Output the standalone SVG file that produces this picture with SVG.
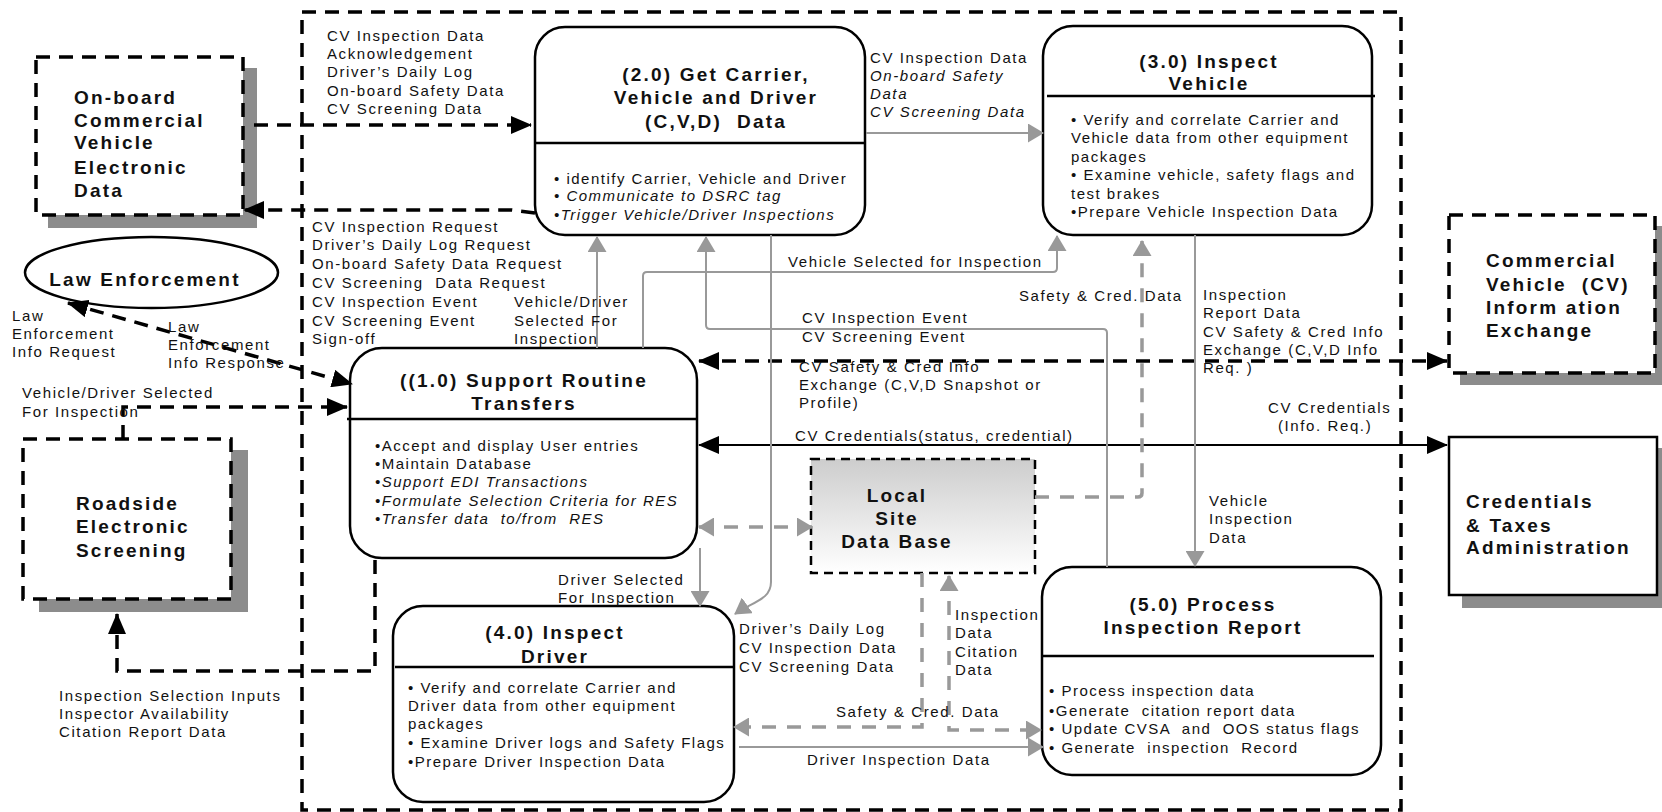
<svg xmlns="http://www.w3.org/2000/svg" width="1662" height="812" viewBox="0 0 1662 812">
  <style>
    text { font-family: "Liberation Sans", Arial, sans-serif; fill: #111; white-space: pre; }
    .lbl { font-size: 15px; letter-spacing: 1.6px; }
    .body { font-size: 15px; letter-spacing: 1.5px; }
    .it { font-style: italic; }
    .ttl { font-size: 19px; font-weight: bold; letter-spacing: 2.2px; text-anchor: middle; }
    .ext { font-size: 19px; font-weight: bold; letter-spacing: 2.2px; }
    .proc { fill: #fff; stroke: #000; stroke-width: 2.5; }
    .div { stroke: #000; stroke-width: 2.5; }
    .shadow { fill: #8c8c8c; }
    .extbox { fill: #fff; stroke: #000; stroke-width: 3.5; stroke-dasharray: 14 9; }
    .bk { fill: none; stroke: #000; stroke-width: 3.5; stroke-dasharray: 14 9; }
    .bks { fill: none; stroke: #000; stroke-width: 2; }
    .gr { fill: none; stroke: #999; stroke-width: 2; }
    .grd { fill: none; stroke: #999; stroke-width: 3.5; stroke-dasharray: 14 11; }
  </style>
  <defs>
    <marker id="ab" markerUnits="userSpaceOnUse" markerWidth="21" markerHeight="18" refX="20" refY="9" orient="auto-start-reverse">
      <path d="M0,0 L21,9 L0,18 z" fill="#000"/>
    </marker>
    <marker id="ag" markerUnits="userSpaceOnUse" markerWidth="16" markerHeight="19" refX="15" refY="9.5" orient="auto-start-reverse">
      <path d="M0,0 L16,9.5 L0,19 z" fill="#999"/>
    </marker>
    <linearGradient id="dbfill" x1="0" y1="0" x2="0" y2="1">
      <stop offset="0" stop-color="#cdcdcd"/>
      <stop offset="1" stop-color="#ffffff"/>
    </linearGradient>
  </defs>

  <rect width="1662" height="812" fill="#fff"/>

  <!-- system boundary -->
  <rect id="boundary" x="302" y="12" width="1099" height="798" fill="none" stroke="#000" stroke-width="3.5" stroke-dasharray="14 9"/>

  <!-- external entities -->
  <g id="onboard">
    <rect class="shadow" x="48" y="68" width="209" height="160"/>
    <rect class="extbox" x="36" y="57" width="207" height="158"/>
    <text class="ext" x="74" y="104">On-board</text>
    <text class="ext" x="74" y="127">Commercial</text>
    <text class="ext" x="74" y="149">Vehicle</text>
    <text class="ext" x="74" y="174">Electronic</text>
    <text class="ext" x="74" y="197">Data</text>
  </g>

  <g id="law-enforcement">
    <ellipse cx="151.5" cy="272.5" rx="126.5" ry="35.5" fill="#fff" stroke="#000" stroke-width="2.5"/>
    <text class="ttl" x="145" y="286">Law Enforcement</text>
  </g>

  <g id="roadside">
    <rect class="shadow" x="39" y="450" width="209" height="162"/>
    <rect class="extbox" x="23" y="439" width="208" height="160"/>
    <text class="ext" x="76" y="510">Roadside</text>
    <text class="ext" x="76" y="533">Electronic</text>
    <text class="ext" x="76" y="557">Screening</text>
  </g>

  <g id="cv-exchange">
    <rect class="shadow" x="1460" y="226" width="210" height="159"/>
    <rect class="extbox" x="1449" y="215" width="206" height="158"/>
    <text class="ext" x="1486" y="267">Commercial</text>
    <text class="ext" x="1486" y="291">Vehicle  (CV)</text>
    <text class="ext" x="1486" y="314">Inform ation</text>
    <text class="ext" x="1486" y="337">Exchange</text>
  </g>

  <g id="credentials">
    <rect class="shadow" x="1462" y="448" width="210" height="160"/>
    <rect x="1449" y="437" width="208" height="158" fill="#fff" stroke="#000" stroke-width="2.5"/>
    <text class="ext" x="1466" y="508">Credentials</text>
    <text class="ext" x="1466" y="532">&amp; Taxes</text>
    <text class="ext" x="1466" y="554">Administration</text>
  </g>

  <g id="local-db">
    <rect x="811" y="459" width="224" height="114" fill="url(#dbfill)" stroke="#000" stroke-width="2.5" stroke-dasharray="9 6"/>
    <text class="ttl" x="897" y="502">Local</text>
    <text class="ttl" x="897" y="525">Site</text>
    <text class="ttl" x="897" y="548">Data Base</text>
  </g>

  <!-- processes -->
  <g id="p1">
    <rect class="proc" x="350" y="348" width="347" height="210" rx="32" stroke-width="3.5"/>
    <line class="div" x1="347" y1="419" x2="697" y2="419"/>
    <text class="ttl" x="524" y="387">((1.0) Support Routine</text>
    <text class="ttl" x="524" y="410">Transfers</text>
    <text class="body" x="375" y="451">•Accept and display User entries</text>
    <text class="body" x="375" y="469">•Maintain Database</text>
    <text class="body it" x="375" y="487">•Support EDI Transactions</text>
    <text class="body it" x="375" y="506">•Formulate Selection Criteria for RES</text>
    <text class="body it" x="375" y="524">•Transfer data  to/from  RES</text>
  </g>

  <g id="p2">
    <rect class="proc" x="535" y="27" width="330" height="208" rx="30"/>
    <line class="div" x1="536" y1="143" x2="865" y2="143"/>
    <text class="ttl" x="716" y="81">(2.0) Get Carrier,</text>
    <text class="ttl" x="716" y="104">Vehicle and Driver</text>
    <text class="ttl" x="716" y="128">(C,V,D)  Data</text>
    <text class="body" x="554" y="184">• identify Carrier, Vehicle and Driver</text>
    <text class="body it" x="554" y="201">• Communicate to DSRC tag</text>
    <text class="body it" x="554" y="220">•Trigger Vehicle/Driver Inspections</text>
  </g>

  <g id="p3">
    <rect class="proc" x="1043" y="26" width="329" height="209" rx="30"/>
    <line class="div" x1="1047" y1="96" x2="1375" y2="96"/>
    <text class="ttl" x="1209" y="68">(3.0) Inspect</text>
    <text class="ttl" x="1209" y="90">Vehicle</text>
    <text class="body" x="1071" y="125">• Verify and correlate Carrier and</text>
    <text class="body" x="1071" y="143">Vehicle data from other equipment</text>
    <text class="body" x="1071" y="162">packages</text>
    <text class="body" x="1071" y="180">• Examine vehicle, safety flags and</text>
    <text class="body" x="1071" y="199">test brakes</text>
    <text class="body" x="1071" y="217">•Prepare Vehicle Inspection Data</text>
  </g>

  <g id="p4">
    <rect class="proc" x="393" y="606" width="341" height="196" rx="30"/>
    <line class="div" x1="395" y1="667" x2="734" y2="667"/>
    <text class="ttl" x="555" y="639">(4.0) Inspect</text>
    <text class="ttl" x="555" y="663">Driver</text>
    <text class="body" x="408" y="693">• Verify and correlate Carrier and</text>
    <text class="body" x="408" y="711">Driver data from other equipment</text>
    <text class="body" x="408" y="729">packages</text>
    <text class="body" x="408" y="748">• Examine Driver logs and Safety Flags</text>
    <text class="body" x="408" y="767">•Prepare Driver Inspection Data</text>
  </g>

  <g id="p5">
    <rect class="proc" x="1042" y="567" width="339" height="208" rx="30"/>
    <line class="div" x1="1042" y1="656" x2="1374" y2="656"/>
    <text class="ttl" x="1203" y="611">(5.0) Process</text>
    <text class="ttl" x="1203" y="634">Inspection Report</text>
    <text class="body" x="1049" y="696">• Process inspection data</text>
    <text class="body" x="1049" y="716">•Generate  citation report data</text>
    <text class="body" x="1049" y="734">• Update CVSA  and  OOS status flags</text>
    <text class="body" x="1049" y="753">• Generate  inspection  Record</text>
  </g>

  <!-- data flows -->
  <g id="connectors">
    <path class="bk" d="M254,125 H531" marker-end="url(#ab)"/>
    <path class="bk" d="M535,213 L512,210 H244" marker-end="url(#ab)"/>
    <path class="bk" d="M68,303 L352,384" marker-start="url(#ab)" marker-end="url(#ab)"/>
    <path class="bk" d="M123,439 V407 H347" marker-end="url(#ab)"/>
    <path class="bk" d="M375,560 V671 H117 V614" marker-end="url(#ab)"/>
    <path class="bk" d="M699,361 H1447" marker-start="url(#ab)" marker-end="url(#ab)"/>
    <path class="bks" d="M699,445 H1447" marker-start="url(#ab)" marker-end="url(#ab)"/>

    <path class="gr" d="M866,133 H1043" marker-end="url(#ag)"/>
    <path class="gr" d="M597,348 V237" marker-end="url(#ag)"/>
    <path class="gr" d="M643,348 V276 Q643,272 647,272 H1053 Q1057,272 1057,268 V236" marker-end="url(#ag)"/>
    <path class="gr" d="M1107,567 V333 Q1107,329 1103,329 H710 Q706,329 706,325 V237" marker-end="url(#ag)"/>
    <path class="gr" d="M771,235 V582 C771,600 752,602 735,614" marker-end="url(#ag)"/>
    <path class="gr" d="M700,548 V606" marker-end="url(#ag)"/>
    <path class="gr" d="M1195,235 V566" marker-end="url(#ag)"/>
    <path class="gr" d="M739,747 H1043" marker-end="url(#ag)"/>

    <path class="grd" d="M1035,497 H1138 Q1142,497 1142,493 V241" marker-end="url(#ag)"/>
    <path class="grd" d="M922,573 V727 H734" marker-end="url(#ag)"/>
    <path class="grd" d="M949,576 V730 H1041" marker-start="url(#ag)" marker-end="url(#ag)"/>
    <path class="grd" d="M699,527 H812" marker-start="url(#ag)" marker-end="url(#ag)"/>
  </g>

  <!-- flow labels -->
  <g id="labels">
    <text class="lbl" x="327" y="41">CV Inspection Data</text>
    <text class="lbl" x="327" y="59">Acknowledgement</text>
    <text class="lbl" x="327" y="77">Driver’s Daily Log</text>
    <text class="lbl" x="327" y="96">On-board Safety Data</text>
    <text class="lbl" x="327" y="114">CV Screening Data</text>

    <text class="lbl" x="312" y="232">CV Inspection Request</text>
    <text class="lbl" x="312" y="250">Driver’s Daily Log Request</text>
    <text class="lbl" x="312" y="269">On-board Safety Data Request</text>
    <text class="lbl" x="312" y="288">CV Screening  Data Request</text>
    <text class="lbl" x="312" y="307">CV Inspection Event</text>
    <text class="lbl" x="312" y="326">CV Screening Event</text>
    <text class="lbl" x="312" y="344">Sign-off</text>

    <text class="lbl" x="514" y="307">Vehicle/Driver</text>
    <text class="lbl" x="514" y="326">Selected For</text>
    <text class="lbl" x="514" y="344">Inspection</text>

    <text class="lbl" x="870" y="63">CV Inspection Data</text>
    <text class="lbl it" x="870" y="81">On-board Safety</text>
    <text class="lbl it" x="870" y="99">Data</text>
    <text class="lbl it" x="870" y="117">CV Screening Data</text>

    <text class="lbl" x="788" y="267">Vehicle Selected for Inspection</text>
    <text class="lbl" x="1019" y="301">Safety &amp; Cred. Data</text>

    <text class="lbl" x="1203" y="300">Inspection</text>
    <text class="lbl" x="1203" y="318">Report Data</text>
    <text class="lbl" x="1203" y="337">CV Safety &amp; Cred Info</text>
    <text class="lbl" x="1203" y="355">Exchange (C,V,D Info</text>
    <text class="lbl" x="1203" y="373">Req. )</text>

    <text class="lbl" x="802" y="323">CV Inspection Event</text>
    <text class="lbl" x="802" y="342">CV Screening Event</text>

    <text class="lbl" x="799" y="372">CV Safety &amp; Cred Info</text>
    <text class="lbl" x="799" y="390">Exchange (C,V,D Snapshot or</text>
    <text class="lbl" x="799" y="408">Profile)</text>

    <text class="lbl" x="795" y="441">CV Credentials(status, credential)</text>
    <text class="lbl" x="1268" y="413">CV Credentials</text>
    <text class="lbl" x="1278" y="431">(Info. Req.)</text>

    <text class="lbl" x="1209" y="506">Vehicle</text>
    <text class="lbl" x="1209" y="524">Inspection</text>
    <text class="lbl" x="1209" y="543">Data</text>

    <text class="lbl" x="558" y="585">Driver Selected</text>
    <text class="lbl" x="558" y="603">For Inspection</text>

    <text class="lbl" x="739" y="634">Driver’s Daily Log</text>
    <text class="lbl" x="739" y="653">CV Inspection Data</text>
    <text class="lbl" x="739" y="672">CV Screening Data</text>

    <text class="lbl" x="955" y="620">Inspection</text>
    <text class="lbl" x="955" y="638">Data</text>
    <text class="lbl" x="955" y="657">Citation</text>
    <text class="lbl" x="955" y="675">Data</text>

    <text class="lbl" x="836" y="717">Safety &amp; Cred. Data</text>
    <text class="lbl" x="807" y="765">Driver Inspection Data</text>

    <text class="lbl" x="12" y="321">Law</text>
    <text class="lbl" x="12" y="339">Enforcement</text>
    <text class="lbl" x="12" y="357">Info Request</text>

    <text class="lbl" x="168" y="332">Law</text>
    <text class="lbl" x="168" y="350">Enforcement</text>
    <text class="lbl" x="168" y="368">Info Response</text>

    <text class="lbl" x="22" y="398">Vehicle/Driver Selected</text>
    <text class="lbl" x="22" y="417">For Inspection</text>

    <text class="lbl" x="59" y="701">Inspection Selection Inputs</text>
    <text class="lbl" x="59" y="719">Inspector Availability</text>
    <text class="lbl" x="59" y="737">Citation Report Data</text>
  </g>
</svg>
